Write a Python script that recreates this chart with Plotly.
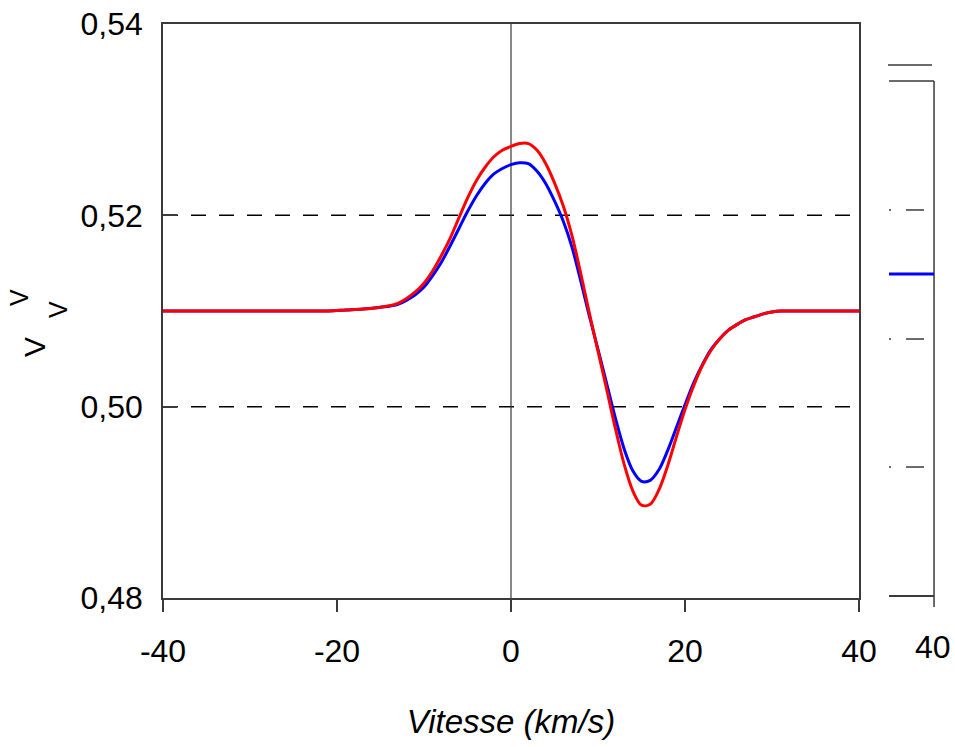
import plotly.graph_objects as go

# Velocity grid (km/s)
vitesse = [-40, -25, -21, -19, -17, -15, -13, -11, -10, -9, -8, -7, -6, -5, -4, -3, -2, -1,
           0, 1, 2, 3, 4, 5, 6, 7, 8, 9, 10, 11, 12, 13, 14, 15, 16, 17, 18, 19,
           20, 21, 22, 23, 24, 25, 26, 27, 28, 29, 30, 31, 32, 40]

rouge = [0.5100, 0.5100, 0.5100, 0.5101, 0.5102, 0.5104, 0.5108, 0.5120, 0.5129, 0.5142,
         0.5158, 0.5176, 0.5197, 0.5218, 0.5236, 0.5250, 0.5261, 0.5268,
         0.5272, 0.5275, 0.5275, 0.5268, 0.5254, 0.5234, 0.5210, 0.5179, 0.5140,
         0.5098, 0.5058, 0.5018, 0.4977, 0.4940, 0.4912, 0.4897, 0.4898, 0.4913,
         0.4938, 0.4968, 0.4997, 0.5022, 0.5043, 0.5059, 0.5071, 0.5080, 0.5086, 0.5091,
         0.5094, 0.5097, 0.5099, 0.5100, 0.5100, 0.5100]

bleu = [0.5100, 0.5100, 0.5100, 0.5101, 0.5102, 0.5104, 0.5107, 0.5117, 0.5125, 0.5137,
        0.5151, 0.5168, 0.5186, 0.5204, 0.5220, 0.5233, 0.5243, 0.5249,
        0.5253, 0.5255, 0.5254, 0.5246, 0.5233, 0.5215, 0.5194, 0.5167, 0.5132,
        0.5095, 0.5060, 0.5024, 0.4988, 0.4956, 0.4933, 0.4922, 0.4923, 0.4934,
        0.4954, 0.4978, 0.5002, 0.5025, 0.5044, 0.5060, 0.5071, 0.5080, 0.5086, 0.5091,
        0.5094, 0.5097, 0.5099, 0.5100, 0.5100, 0.5100]

x_ticks = [-40, -20, 0, 20, 40]
x_labels = ["-40", "-20", "0", "20", "40"]
y_ticks = [0.48, 0.50, 0.52, 0.54]
grid_levels = [0.50, 0.52]

NARROW = "Liberation Sans Narrow, Arial Narrow, Liberation Sans, Arial, sans-serif"
AXIS = "#3a3a3a"

fig = go.Figure()
fig.add_trace(go.Scatter(x=vitesse, y=bleu, mode="lines", line=dict(color="#0000FF", width=3, shape="spline", smoothing=0.9),
                         showlegend=False, hoverinfo="skip"))
fig.add_trace(go.Scatter(x=vitesse, y=rouge, mode="lines", line=dict(color="#FF0000", width=3, shape="spline", smoothing=0.9),
                         showlegend=False, hoverinfo="skip"))

shapes = []
for g in grid_levels:
    shapes.append(dict(type="line", xref="paper", x0=0, x1=1, yref="y", y0=g, y1=g,
                       line=dict(color="black", width=1.5, dash="15px,13px"), layer="below"))
shapes.append(dict(type="line", xref="x", x0=0, x1=0, yref="paper", y0=0, y1=1,
                   line=dict(color=AXIS, width=1.2), layer="below"))

# fragment of neighbouring panel on the right
frag = [
    (1.0417, 0.9286, 1.1049, 0.9286, AXIS, 1.5),
    (1.0431, 0.9007, 1.1078, 0.9007, AXIS, 1.5),
    (1.1078, 0.9007, 1.1078, -0.0157, AXIS, 1.5),
    (1.0431, 0.0035, 1.1078, 0.0035, AXIS, 2),
    (1.0431, 0.5645, 1.1078, 0.5645, "#0000FF", 3),
]
for yy in [0.676, 0.4512, 0.2282]:
    frag.append((1.0431, yy, 1.0460, yy, AXIS, 1.5))
    frag.append((1.0675, yy, 1.0934, yy, AXIS, 1.5))
for x0, y0, x1, y1, c, w in frag:
    shapes.append(dict(type="line", xref="paper", yref="paper", x0=x0, y0=y0, x1=x1, y1=y1,
                       line=dict(color=c, width=w)))

annotations = [
    dict(text="V", x=-0.1839, y=0.4373, xref="paper", yref="paper", showarrow=False, textangle=-90,
         xanchor="center", yanchor="middle", font=dict(family=NARROW, size=30, color="black")),
    dict(text="V", x=-0.2069, y=0.5244, xref="paper", yref="paper", showarrow=False, textangle=-90,
         xanchor="center", yanchor="middle", font=dict(family=NARROW, size=25, color="black")),
    dict(text="V", x=-0.1509, y=0.5035, xref="paper", yref="paper", showarrow=False, textangle=-90,
         xanchor="center", yanchor="middle", font=dict(family=NARROW, size=25, color="black")),
    dict(text="40", x=1.1063, y=-0.0854, xref="paper", yref="paper", showarrow=False,
         xanchor="center", yanchor="middle",
         font=dict(family="Liberation Sans, Arial, sans-serif", size=32, color="black")),
]

fig.update_layout(
    width=955, height=747,
    margin=dict(l=163, r=96, t=24, b=149, autoexpand=False),
    plot_bgcolor="white", paper_bgcolor="white",
    separators=", ",
    shapes=shapes, annotations=annotations,
    xaxis=dict(range=[-40, 40], tickvals=x_ticks, ticktext=x_labels, showgrid=False, zeroline=False,
               showline=True, linecolor=AXIS, linewidth=1.5, mirror=True, automargin=False,
               ticks="outside", ticklen=12, tickcolor=AXIS, tickwidth=1.5, ticklabelstandoff=12,
               tickfont=dict(family=NARROW, size=32, color="black"),
               title=dict(text="<i>Vitesse (km/s)</i>", standoff=42,
                          font=dict(family=NARROW, size=33, color="black"))),
    yaxis=dict(range=[0.48, 0.54], tickvals=y_ticks, tickformat=".2f", showgrid=False, zeroline=False,
               showline=True, linecolor=AXIS, linewidth=1.5, mirror=True, automargin=False,
               ticks="inside", ticklen=14, tickcolor=AXIS, tickwidth=1.5, ticklabelstandoff=12,
               tickfont=dict(family=NARROW, size=32, color="black")),
)

fig.write_html("out.html")
